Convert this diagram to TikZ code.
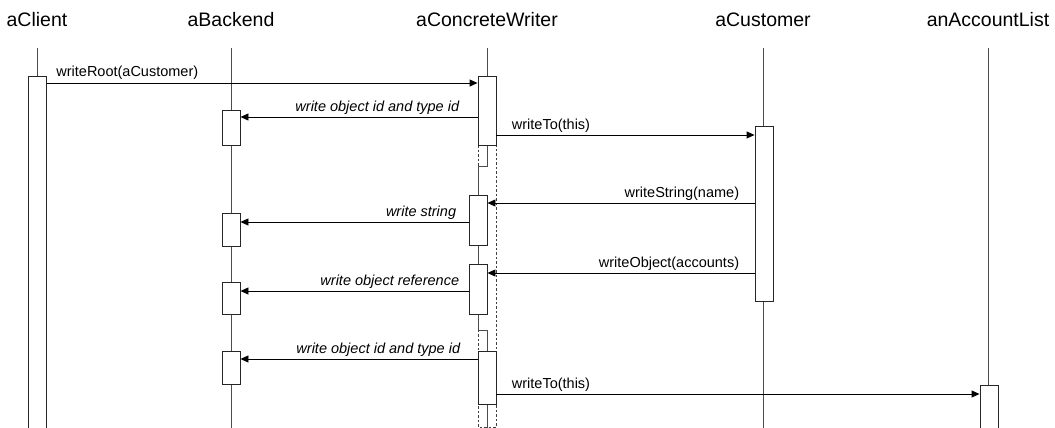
\documentclass[tikz,border=0pt]{standalone}
\usepackage{fontspec}
\setmainfont{Liberation Sans}
\usetikzlibrary{arrows.meta}

\tikzset{
  head/.style={anchor=base, inner sep=0pt, font=\fontsize{19.5}{22}\selectfont},
  life/.style={draw=black!70, line width=0.8pt},
  act/.style={draw=black!85, fill=white, line width=0.9pt, minimum width=18pt,
    inner sep=0pt, anchor=north},
  ret/.style={draw=black!75, line width=0.7pt, dash pattern=on 2.5pt off 2pt},
  msg/.style={draw=black, line width=0.9pt, -{Triangle[length=8pt,width=7pt]}},
  lbl/.style={inner sep=0pt, font=\fontsize{14.5}{17}\selectfont},
  ilbl/.style={lbl, font=\fontsize{14.5}{17}\selectfont\itshape}
}

\begin{document}
\begin{tikzpicture}[x=1pt,y=-1pt]
\useasboundingbox (0,0) rectangle (1055,428);

% objects
\foreach \n/\x/\t in {tClient/37/aClient, tBackend/231/aBackend,
    tWriter/487/aConcreteWriter, tCustomer/763/aCustomer, tList/988/anAccountList}
  \node[head] (\n) at (\x,27) {\t};

\foreach \n in {tClient,tBackend,tCustomer,tList}
  \draw[life] ([yshift=-21pt]\n.base) -- ++(0,390);

% writer's pending frame
\draw[ret] (478,145) rectangle (496,427);

% activations
\node[act, minimum height=356pt] (c1) at (37.5,76) {};
\node[act, minimum height=35pt] (b1) at (231,110) {};
\node[act, minimum height=33pt] (b2) at (231,213) {};
\node[act, minimum height=32pt] (b3) at (231,282) {};
\node[act, minimum height=33pt] (b4) at (231,351) {};
\node[act, minimum height=69pt] (w1) at (487,76) {};
\node[act, minimum height=50pt] (w2) at (478,195) {};
\node[act, minimum height=50pt] (w3) at (478,264) {};
\node[act, minimum height=53pt] (w4) at (487,351) {};
\node[act, minimum height=175pt] (u1) at (764,126) {};
\node[act, minimum height=50pt] (l1) at (989,385) {};

% writer lifeline between activations
\draw[life] ([yshift=-21pt]tWriter.base) -- (w1.north);
\draw[life] (w1.south) -- ++(0,20) -| (w2.north);
\draw[life] (w2.south) -- (w3.north);
\draw[life] (w3.south) |- ++(9,15) -- (w4.north);
\draw[life] (w4.south) -- ++(0,30);

% messages
\draw[msg] ([yshift=-7pt]c1.north east) -- ([yshift=-7pt]w1.north west)
  node[lbl, pos=0, anchor=base west, xshift=9pt, yshift=6pt] {writeRoot(aCustomer)};
\draw[msg] ([yshift=-7pt]w1.west |- b1.north) -- ([yshift=-7pt]b1.north east)
  node[ilbl, pos=0, anchor=base east, xshift=-18pt, yshift=6pt] {write object id and type id};
\draw[msg] ([yshift=-9pt]w1.east |- u1.north) -- ([yshift=-9pt]u1.north west)
  node[lbl, pos=0, anchor=base west, xshift=15pt, yshift=6pt] {writeTo(this)};
\draw[msg] ([yshift=-8pt]u1.west |- w2.north) -- ([yshift=-8pt]w2.north east)
  node[lbl, pos=0, anchor=base east, xshift=-15pt, yshift=6pt] {writeString(name)};
\draw[msg] ([yshift=-9pt]w2.west |- b2.north) -- ([yshift=-9pt]b2.north east)
  node[ilbl, pos=0, anchor=base east, xshift=-12pt, yshift=6pt] {write string};
\draw[msg] ([yshift=-9pt]u1.west |- w3.north) -- ([yshift=-9pt]w3.north east)
  node[lbl, pos=0, anchor=base east, xshift=-15pt, yshift=6pt] {writeObject(accounts)};
\draw[msg] ([yshift=-9pt]w3.west |- b3.north) -- ([yshift=-9pt]b3.north east)
  node[ilbl, pos=0, anchor=base east, xshift=-9pt, yshift=6pt] {write object reference};
\draw[msg] ([yshift=-8pt]w4.west |- b4.north) -- ([yshift=-8pt]b4.north east)
  node[ilbl, pos=0, anchor=base east, xshift=-17pt, yshift=6pt] {write object id and type id};
\draw[msg] ([yshift=-9pt]w4.east |- l1.north) -- ([yshift=-9pt]l1.north west)
  node[lbl, pos=0, anchor=base west, xshift=15pt, yshift=6pt] {writeTo(this)};
\end{tikzpicture}
\end{document}
